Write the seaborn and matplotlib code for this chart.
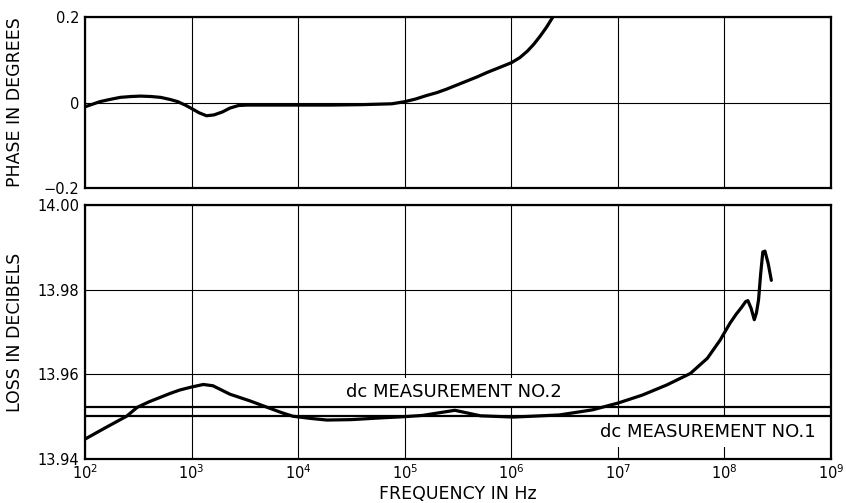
import numpy as np
import pandas as pd
import matplotlib
matplotlib.use("Agg")
import matplotlib.pyplot as plt
import seaborn as sns

# Phase response (log10 frequency, degrees)
phase_logf = [2.00, 2.07, 2.14, 2.23, 2.33, 2.43, 2.52, 2.62, 2.71, 2.80, 2.87,
              2.94, 3.00, 3.07, 3.14, 3.21, 3.29, 3.36, 3.44, 3.52, 3.60, 3.80,
              4.00, 4.30, 4.60, 4.88, 5.00, 5.10, 5.20, 5.30, 5.39, 5.48, 5.58,
              5.68, 5.77, 5.88, 6.00, 6.08, 6.15, 6.21, 6.27, 6.33, 6.39, 6.42]
phase_deg = [-0.010, -0.004, 0.002, 0.007, 0.012, 0.014, 0.015, 0.014, 0.012,
             0.007, 0.002, -0.006, -0.014, -0.024, -0.031, -0.029, -0.022, -0.013,
             -0.007, -0.006, -0.006, -0.006, -0.006, -0.006, -0.005, -0.003, 0.002,
             0.008, 0.016, 0.023, 0.031, 0.040, 0.050, 0.060, 0.070, 0.081, 0.093,
             0.105, 0.120, 0.136, 0.155, 0.176, 0.200, 0.214]

# Insertion loss (log10 frequency, dB)
loss_logf = [2.00, 2.20, 2.39, 2.49, 2.60, 2.70, 2.80, 2.89, 3.00, 3.11, 3.20,
             3.36, 3.55, 3.71, 3.85, 3.95, 4.11, 4.27, 4.50, 4.77, 5.00, 5.17,
             5.32, 5.47, 5.60, 5.71, 6.02, 6.45, 6.76, 7.00, 7.23, 7.46, 7.68,
             7.84, 7.96, 8.05, 8.11, 8.16, 8.20, 8.22, 8.25, 8.28, 8.30, 8.32,
             8.34, 8.36, 8.38, 8.41, 8.44]
loss_db = [13.9447, 13.9475, 13.9501, 13.9522, 13.9535, 13.9545, 13.9555, 13.9563,
           13.9570, 13.9576, 13.9573, 13.9553, 13.9537, 13.9522, 13.9509, 13.9501,
           13.9496, 13.9492, 13.9493, 13.9497, 13.9500, 13.9503, 13.9509, 13.9515,
           13.9508, 13.9502, 13.9499, 13.9504, 13.9516, 13.9532, 13.9551, 13.9575,
           13.9602, 13.9638, 13.9681, 13.9720, 13.9742, 13.9758, 13.9772, 13.9774,
           13.9756, 13.9729, 13.9745, 13.9776, 13.9838, 13.9889, 13.9891, 13.9862,
           13.9822]

# dc reference measurements (dB)
dc_no1 = 13.9501
dc_no2 = 13.9522

x_ticks = [1e2, 1e3, 1e4, 1e5, 1e6, 1e7, 1e8, 1e9]
phase_ticks = [-0.2, 0.0, 0.2]
phase_ticklabels = ["\u22120.2", "0", "0.2"]
loss_ticks = [13.94, 13.96, 13.98, 14.00]
loss_ticklabels = ["13.94", "13.96", "13.98", "14.00"]

sns.set_style("white")
plt.rcParams["font.family"] = ["DejaVu Sans"]
plt.rcParams["text.color"] = "black"
plt.rcParams["axes.labelcolor"] = "black"

fig = plt.figure(figsize=(8.46, 5.03), dpi=100)
ax1 = fig.add_axes([0.1005, 0.6262, 0.8818, 0.3400])
ax2 = fig.add_axes([0.1005, 0.0875, 0.8818, 0.5050])

phase_df = pd.DataFrame({"f": 10 ** np.array(phase_logf), "phase": phase_deg})
loss_df = pd.DataFrame({"f": 10 ** np.array(loss_logf), "loss": loss_db})

sns.lineplot(data=phase_df, x="f", y="phase", ax=ax1, color="black", lw=2.3,
             zorder=5, sort=False)
sns.lineplot(data=loss_df, x="f", y="loss", ax=ax2, color="black", lw=2.3,
             zorder=5, sort=False)
ax2.axhline(dc_no1, color="black", lw=1.6, zorder=4)
ax2.axhline(dc_no2, color="black", lw=1.6, zorder=4)

for ax in (ax1, ax2):
    ax.set_xscale("log")
    ax.set_xlim(1e2, 1e9)
    ax.set_xticks(x_ticks)
    ax.minorticks_off()
    ax.grid(True, color="black", lw=0.8, zorder=1)
    ax.set_axisbelow(True)
    ax.tick_params(length=0, labelsize=10.5, colors="black")
    ax.tick_params(axis="y", pad=4)
    ax.tick_params(axis="x", pad=3)
    for s in ax.spines.values():
        s.set_color("black")
        s.set_linewidth(1.6)
    ax.set_xlabel("")

ax1.set_ylim(-0.2, 0.2)
ax1.set_yticks(phase_ticks)
ax1.set_yticklabels(phase_ticklabels)
ax1.tick_params(axis="x", labelbottom=False)
ax1.set_ylabel("PHASE IN DEGREES", fontsize=12.5)
ax1.yaxis.set_label_coords(-0.082, 0.5)

ax2.set_ylim(13.94, 14.00)
ax2.set_yticks(loss_ticks)
ax2.set_yticklabels(loss_ticklabels)
ax2.set_ylabel("LOSS IN DECIBELS", fontsize=12.5)
ax2.yaxis.set_label_coords(-0.082, 0.5)
ax2.set_xlabel("FREQUENCY IN Hz", fontsize=12.5)
ax2.xaxis.set_label_coords(0.5, -0.138)
ax2.xaxis.label.set_va("center")

box = dict(facecolor="white", edgecolor="none", pad=4)
ax2.text(10 ** 5.46, 13.9546, "dc MEASUREMENT NO.2", ha="center", va="baseline",
         fontsize=13, bbox=box, zorder=3)
ax2.text(10 ** 7.84, 13.9452, "dc MEASUREMENT NO.1", ha="center", va="baseline",
         fontsize=13, bbox=box, zorder=3)

fig.savefig("out.png", dpi=100)
